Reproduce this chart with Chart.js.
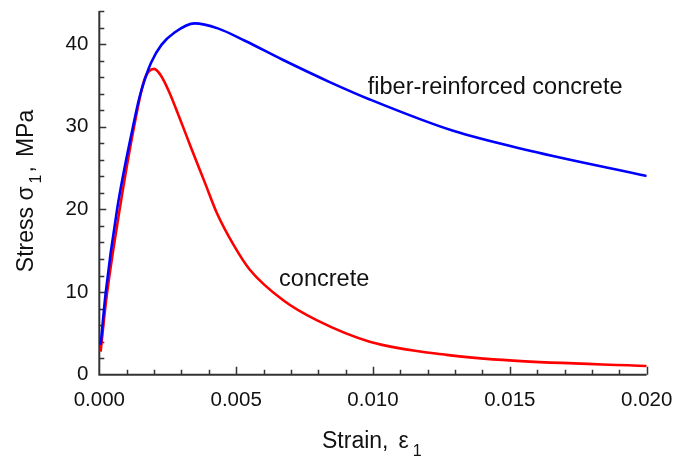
<!DOCTYPE html>
<html lang="en">
<head>
<meta charset="UTF-8">
<title>Stress-strain curves</title>
<script src="https://cdn.jsdelivr.net/npm/chart.js@4"></script>
<style>
  html, body { margin: 0; padding: 0; background: #fff; }
  #chart { display: block; }
</style>
</head>
<body>
<canvas id="chart" width="673" height="461"></canvas>
<script>
// values
const strainFiber = [0.00005, 0.00023, 0.00065, 0.00123, 0.00147, 0.00166, 0.0019, 0.00227, 0.00275, 0.00348, 0.00433, 0.00532, 0.0067, 0.00842, 0.00988, 0.01293, 0.01573, 0.020];
const stressFiber = [3.6, 9.8, 20.0, 30.0, 33.6, 35.7, 37.8, 39.9, 41.4, 42.5, 41.9, 40.4, 38.1, 35.4, 33.3, 29.5, 27.1, 24.05];

const strainConcrete = [0.00005, 0.00025, 0.00071, 0.00127, 0.00166, 0.002, 0.00225, 0.00258, 0.00287, 0.00336, 0.00385, 0.00429, 0.00489, 0.0055, 0.00672, 0.00794, 0.00988, 0.01269, 0.01512, 0.020];
const stressConcrete = [2.8, 9.0, 19.3, 30.0, 35.8, 37.0, 36.2, 34.0, 31.6, 27.4, 23.3, 19.6, 15.8, 12.7, 9.0, 6.6, 4.0, 2.4, 1.7, 1.05];

const xTickValues = [0, 0.005, 0.010, 0.015, 0.020];
const yTickValues = [0, 10, 20, 30, 40];

const curveLabels = ['fiber-reinforced concrete', 'concrete'];
const labelStrain = [0.00981, 0.00657];
const labelStress = [34.0, 10.7];

const textFont = '"Liberation Sans", Arial, sans-serif';

function toPoints(xs, ys) {
  return xs.map((v, i) => ({ x: v, y: ys[i] }));
}

// text with a subscript part, drawn left to right from x
function drawSub(ctx, parts, x, y) {
  let cx = x;
  parts.forEach(p => {
    ctx.font = p.sub ? '16px ' + textFont : '23px ' + textFont;
    ctx.fillText(p.t, cx, y + (p.sub ? 8 : 0));
    cx += ctx.measureText(p.t).width + (p.gap || 0);
  });
}
function subWidth(ctx, parts) {
  let w = 0;
  parts.forEach(p => {
    ctx.font = p.sub ? '16px ' + textFont : '23px ' + textFont;
    w += ctx.measureText(p.t).width + (p.gap || 0);
  });
  return w;
}

const axesPlugin = {
  id: 'axesPlugin',
  beforeDatasetsDraw(chart) {
    const { ctx, chartArea: a, scales: { x, y } } = chart;
    ctx.save();
    ctx.strokeStyle = '#333';
    ctx.lineWidth = 2;
    ctx.beginPath();
    ctx.moveTo(a.left, y.getPixelForValue(44));
    ctx.lineTo(a.left, a.bottom);
    ctx.lineTo(x.getPixelForValue(0.02), a.bottom);
    ctx.stroke();

    ctx.lineWidth = 1.5;
    ctx.beginPath();
    for (let i = 1; i <= 20; i++) {
      const px = Math.round(x.getPixelForValue(i / 1000)) + 0.5;
      const len = i % 5 === 0 ? 8 : 5;
      ctx.moveTo(px, a.bottom);
      ctx.lineTo(px, a.bottom - len);
    }
    for (let v = 2; v <= 44; v += 2) {
      const py = Math.round(y.getPixelForValue(v)) + 0.5;
      const len = v % 10 === 0 ? 7 : 5;
      ctx.moveTo(a.left, py);
      ctx.lineTo(a.left + len, py);
    }
    ctx.stroke();
    ctx.restore();
  },
  afterDraw(chart) {
    const { ctx, chartArea: a, scales: { x, y } } = chart;
    ctx.save();
    ctx.fillStyle = '#111';
    ctx.textBaseline = 'alphabetic';
    ctx.textAlign = 'left';

    // curve labels
    ctx.font = '23.5px ' + textFont;
    curveLabels.forEach((t, i) => {
      ctx.fillText(t, x.getPixelForValue(labelStrain[i]), y.getPixelForValue(labelStress[i]));
    });

    // x axis title
    const xt = [{ t: 'Strain,', gap: 10 }, { t: '\u03b5', gap: 4 }, { t: '1', sub: true }];
    drawSub(ctx, xt, 322, 448);

    // y axis title
    const yt = [{ t: 'Stress ' }, { t: '\u03c3', gap: 3 }, { t: '1', sub: true, gap: 2 }, { t: ',', gap: 9 }, { t: 'MPa' }];
    ctx.translate(33, 191);
    ctx.rotate(-Math.PI / 2);
    drawSub(ctx, yt, -subWidth(ctx, yt) / 2, 0);
    ctx.restore();
  }
};

const tickFont = { family: textFont, size: 20.5 };

new Chart(document.getElementById('chart'), {
  type: 'scatter',
  data: {
    datasets: [
      {
        label: 'fiber-reinforced concrete',
        data: toPoints(strainFiber, stressFiber),
        borderColor: '#0000ff',
        borderWidth: 2.6,
        showLine: true,
        pointRadius: 0,
        cubicInterpolationMode: 'monotone'
      },
      {
        label: 'concrete',
        data: toPoints(strainConcrete, stressConcrete),
        borderColor: '#ff0000',
        borderWidth: 2.6,
        showLine: true,
        pointRadius: 0,
        cubicInterpolationMode: 'monotone'
      }
    ]
  },
  options: {
    responsive: false,
    animation: false,
    layout: { padding: { left: 0, right: 26.3, top: 11, bottom: 0 } },
    plugins: {
      legend: { display: false },
      tooltip: { enabled: false }
    },
    scales: {
      x: {
        type: 'linear',
        min: 0,
        max: 0.02,
        grid: { display: false, drawTicks: false },
        border: { display: false },
        afterBuildTicks: s => { s.ticks = xTickValues.map(v => ({ value: v })); },
        afterFit: s => { s.height = 86.3; s.paddingLeft = 0; s.paddingRight = 0; },
        ticks: {
          callback: v => v.toFixed(3),
          font: tickFont,
          color: '#111',
          padding: 13,
          maxRotation: 0,
          autoSkip: false
        }
      },
      y: {
        type: 'linear',
        min: 0,
        max: 44,
        grid: { display: false, drawTicks: false },
        border: { display: false },
        afterBuildTicks: s => { s.ticks = yTickValues.map(v => ({ value: v })); },
        afterFit: s => { s.width = 99.3; s.paddingTop = 0; s.paddingBottom = 0; },
        ticks: {
          font: tickFont,
          color: '#111',
          padding: 11,
          autoSkip: false
        }
      }
    }
  },
  plugins: [axesPlugin]
});
</script>
</body>
</html>
